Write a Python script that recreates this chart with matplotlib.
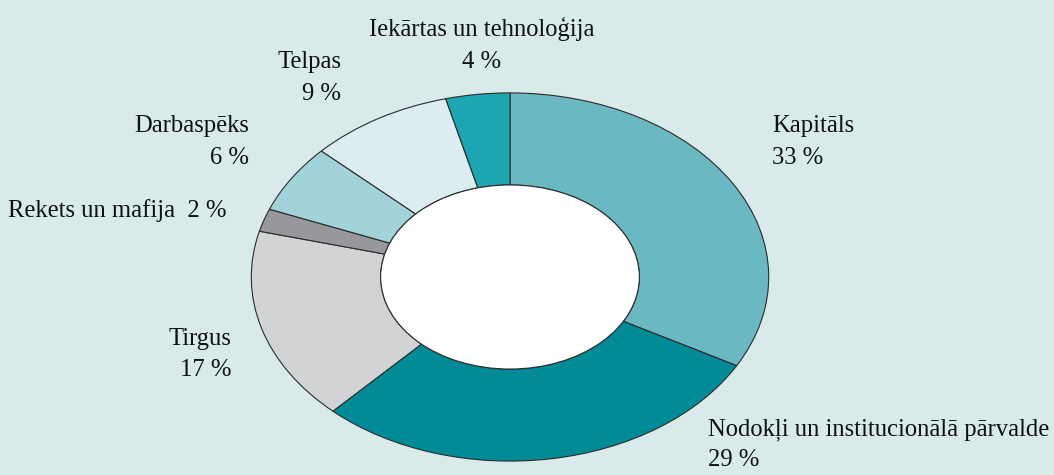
import matplotlib
matplotlib.use("Agg")
import matplotlib.pyplot as plt
from matplotlib.patches import Circle

# shares of the donut, clockwise from the top
labels = ["Kapitāls", "Nodokļi un institucionālā pārvalde", "Tirgus",
          "Rekets un mafija", "Darbaspēks", "Telpas", "Iekārtas un tehnoloģija"]
values = [33, 29, 17, 2, 6, 9, 4]
colors = ["#6ab8c1", "#008b96", "#d2d3d5", "#96989b", "#a3d3da", "#ddeef2", "#1da5b2"]

# label layout in pixels: x, first baseline y, alignment, one-line flag
label_pos = [
    (772, 132, "left", False),
    (708, 435, "left", False),
    (231, 345, "right", False),
    (227, 217, "right", True),
    (249, 132, "right", False),
    (341, 68, "right", False),
    (482, 36, "center", False),
]

W, H = 1054, 475
bg = "#d8eaea"
edge = "#2b2b2b"
line_step = 31.5

plt.rcParams["font.family"] = ["Liberation Serif", "DejaVu Serif"]

fig = plt.figure(figsize=(W / 100, H / 100), dpi=100, facecolor=bg)
# axes box sized so the pie becomes the flattened ellipse
ax = fig.add_axes([250 / W, (H - 462) / H, 520 / W, 370 / H])
ax.set_facecolor(bg)

ax.pie(values, colors=colors, startangle=90, counterclock=False, radius=1.0,
       wedgeprops=dict(width=0.5, edgecolor=edge, linewidth=0.8))
ax.add_patch(Circle((0, 0), 0.5, facecolor="white", edgecolor=edge, linewidth=0.8, zorder=5))
ax.set_aspect("auto")
ax.set_xlim(-1.005, 1.005)
ax.set_ylim(-1.005, 1.005)
ax.axis("off")

for name, val, (x, y, ha, one_line) in zip(labels, values, label_pos):
    if one_line:
        lines = [f"{name}  {val} %"]
    else:
        lines = [name, f"{val} %"]
    for i, txt in enumerate(lines):
        fig.text(x / W, 1 - (y + i * line_step) / H, txt, ha=ha, va="baseline",
                 fontsize=17.7, color="#111111")

fig.savefig("out.png", dpi=100, facecolor=bg)
